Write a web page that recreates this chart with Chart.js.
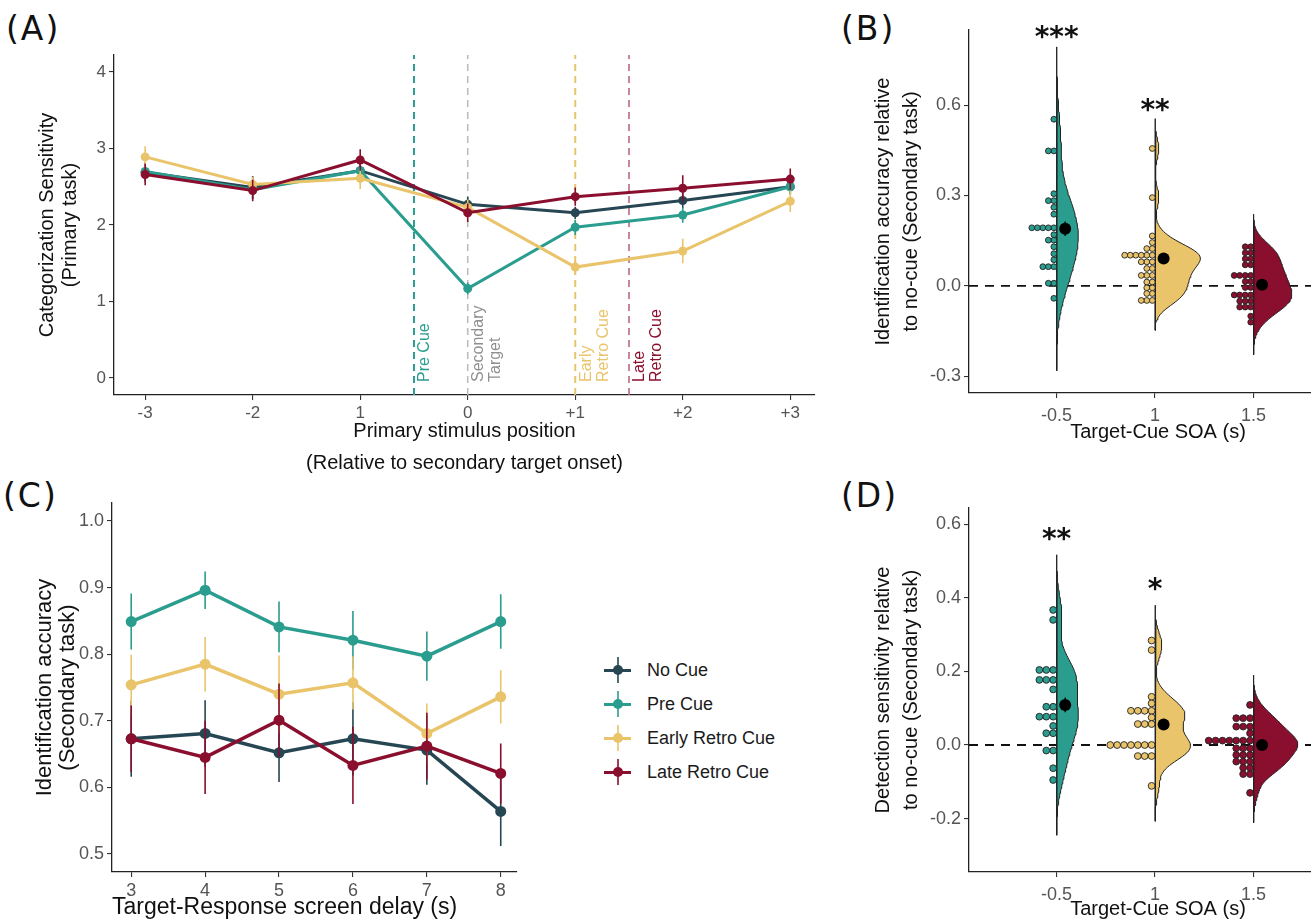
<!DOCTYPE html>
<html>
<head>
<meta charset="utf-8">
<script src="https://cdn.jsdelivr.net/npm/chart.js@4.4.1/dist/chart.umd.min.js"></script>
<style>
  html, body { margin: 0; padding: 0; background: #fff; overflow: hidden; width: 1311px; height: 920px; }
  canvas, .tag, #legend { position: absolute; }
  .tag { font-family: 'DejaVu Sans', sans-serif; font-size: 33px; letter-spacing: 2px; line-height: 1; color: #111; }
  #legend { left: 600px; top: 653px; font-family: 'Liberation Sans', Arial, sans-serif; font-size: 18px; color: #1a1a1a; }
  .item { position: relative; height: 34px; width: 200px; }
  .item span { position: absolute; }
</style>
</head>
<body>
<div class="tag" style="left:6px;top:12px">(A)</div>
<div class="tag" style="left:841px;top:12px">(B)</div>
<div class="tag" style="left:3px;top:479px">(C)</div>
<div class="tag" style="left:841px;top:479px">(D)</div>

<canvas id="chart-a" width="840" height="480" style="left:0;top:0"></canvas>
<canvas id="chart-c" width="560" height="450" style="left:0;top:470px"></canvas>
<canvas id="chart-b" width="513" height="450" style="left:840px;top:0"></canvas>
<canvas id="chart-d" width="513" height="450" style="left:840px;top:470px"></canvas>
<div id="legend"></div>

<script>
// ---- datos ----
const cueNames  = ['No Cue', 'Pre Cue', 'Early Retro Cue', 'Late Retro Cue'];
const cueColors = ['#264653', '#2a9d8f', '#e9c46a', '#8a0f2e'];

// (A) sensibilidad de categorización
const posLabels  = ['-3', '-2', '1', '0', '+1', '+2', '+3'];
const sensTicks  = [0, 1, 2, 3, 4];
const sensNoCue  = [2.69, 2.49, 2.71, 2.27, 2.16, 2.32, 2.50];
const sensPreCue = [2.70, 2.46, 2.71, 1.17, 1.97, 2.13, 2.50];
const sensEarly  = [2.89, 2.53, 2.61, 2.23, 1.45, 1.66, 2.31];
const sensLate   = [2.66, 2.45, 2.85, 2.16, 2.37, 2.48, 2.60];
const errNoCue   = [0.12, 0.15, 0.12, 0.10, 0.08, 0.10, 0.10];
const errPreCue  = [0.12, 0.12, 0.10, 0.08, 0.10, 0.10, 0.10];
const errEarly   = [0.14, 0.10, 0.14, 0.10, 0.10, 0.16, 0.14];
const errLate    = [0.14, 0.14, 0.14, 0.12, 0.12, 0.17, 0.14];
const eventPos   = [2.5, 3, 4, 4.5];
const eventNames = [['Pre Cue'], ['Secondary', 'Target'], ['Early', 'Retro Cue'], ['Late', 'Retro Cue']];
const eventLineColors = ['#2a9d8f', '#bdbdbd', '#e9c46a', '#b86a85'];
const eventTextColors = ['#2a9d8f', '#8f8f8f', '#e9c46a', '#8a0f2e'];

// (C) precisión de identificación
const delayLabels = [3, 4, 5, 6, 7, 8];
const idTicks     = [0.5, 0.6, 0.7, 0.8, 0.9, 1.0];
const idNoCue     = [0.673, 0.681, 0.652, 0.673, 0.656, 0.564];
const idPreCue    = [0.849, 0.896, 0.841, 0.821, 0.797, 0.849];
const idEarly     = [0.754, 0.785, 0.740, 0.757, 0.681, 0.736];
const idLate      = [0.673, 0.645, 0.701, 0.633, 0.662, 0.621];
const idErrNoCue  = [0.057, 0.050, 0.044, 0.055, 0.052, 0.052];
const idErrPreCue = [0.042, 0.028, 0.038, 0.044, 0.037, 0.041];
const idErrEarly  = [0.045, 0.041, 0.058, 0.040, 0.045, 0.040];
const idErrLate   = [0.050, 0.055, 0.055, 0.058, 0.050, 0.045];

// (B) precisión relativa a no-cue
const soaLabels = ['-0.5', '1', '1.5'];
const soaPos    = [1, 2, 3];
const accTicks  = [-0.3, 0, 0.3, 0.6];
const accPre    = [0.553, 0.448, 0.448, 0.306, 0.283, 0.283, 0.261, 0.238, 0.193, 0.193, 0.193, 0.193, 0.193,
                   0.170, 0.152, 0.152, 0.130, 0.107, 0.087, 0.064, 0.064, 0.064, 0.009, 0.009, -0.041];
const accEarly  = [0.456, 0.293, 0.166, 0.144, 0.124, 0.124, 0.102, 0.102, 0.102, 0.102, 0.102, 0.102,
                   0.080, 0.080, 0.080, 0.058, 0.058, 0.035, 0.035, 0.035, 0.013, 0.013, -0.006, -0.006,
                   -0.025, -0.025, -0.048, -0.048, -0.048];
const accLate   = [0.130, 0.130, 0.110, 0.110, 0.090, 0.090, 0.070, 0.070, 0.035, 0.035, 0.035, 0.035,
                   0.015, 0.015, -0.005, -0.005, -0.030, -0.030, -0.030, -0.030, -0.050, -0.050, -0.050,
                   -0.070, -0.070, -0.070, -0.100, -0.120];
const accMeans  = [0.190, 0.091, 0.004];
const accErr    = [0.024, 0.018, 0.016];
const accStars  = ['***', '**', ''];
const accStarY  = [0.845, 0.603, 0];
const accBandwidth   = [0.080, 0.033, 0.036];
const accViolinWidth = [0.22, 0.46, 0.39];

// (D) sensibilidad de detección relativa a no-cue
const detTicks  = [-0.2, 0, 0.2, 0.4, 0.6];
const detPre    = [0.367, 0.340, 0.204, 0.204, 0.204, 0.177, 0.177, 0.177, 0.151, 0.104, 0.104,
                   0.077, 0.077, 0.077, 0.052, 0.032, 0.032, -0.015, -0.015, -0.063, -0.095];
const detEarly  = [0.284, 0.258, 0.131, 0.113, 0.093, 0.093, 0.093, 0.093, 0.075, 0.057, 0.057, 0.057,
                   0, 0, 0, 0, 0, 0, 0, -0.030, -0.030, -0.030, -0.111];
const detLate   = [0.109, 0.073, 0.073, 0.073, 0.050, 0.050, 0.050, 0.032, 0.012, 0.012, 0.012, 0.012,
                   0.012, 0.012, 0.012, -0.009, -0.009, -0.009, -0.027, -0.027, -0.027, -0.045, -0.045,
                   -0.045, -0.062, -0.062, -0.079, -0.079, -0.130];
const detMeans  = [0.109, 0.056, 0.0];
const detErr    = [0.020, 0.015, 0.012];
const detStars  = ['**', '*', ''];
const detStarY  = [0.576, 0.440, 0];
const detBandwidth   = [0.050, 0.032, 0.027];
const detViolinWidth = [0.22, 0.36, 0.45];

// ---- estilo común ----
const FONT = "'Liberation Sans', Arial, sans-serif";
Chart.defaults.font.family = FONT;

function axisBase(tickSize) {
  return {
    type: 'linear',
    grid: { drawOnChartArea: false, drawTicks: true, tickLength: 5, color: '#333', lineWidth: 1.1 },
    border: { display: true, color: '#222', width: 1.3 },
    ticks: { color: '#555', font: { size: tickSize }, padding: 3, autoSkip: false, maxRotation: 0 }
  };
}

function axisTitle(lines, size, lh, padTop, padBottom, align) {
  return {
    display: true, text: lines, color: '#111', align: align || 'center',
    font: { size: size, lineHeight: lh },
    padding: { top: padTop, bottom: padBottom }
  };
}

function baseOptions(padding, scales, extraPlugins) {
  return {
    responsive: false,
    animation: false,
    devicePixelRatio: 1,
    layout: { padding: padding },
    plugins: Object.assign({ legend: { display: false }, tooltip: { enabled: false } }, extraPlugins || {}),
    scales: scales
  };
}

// segmentos de barras de error separados por huecos
function errorSegments(xs, means, errs) {
  const pts = [];
  means.forEach((m, i) => {
    pts.push({ x: xs[i], y: m - errs[i] }, { x: xs[i], y: m + errs[i] }, { x: xs[i], y: null });
  });
  return pts;
}

function lineSeries(xs, series, errs, lineW, radius) {
  const sets = [];
  series.forEach((vals, s) => {
    sets.push({
      data: vals.map((v, i) => ({ x: xs[i], y: v })),
      borderColor: cueColors[s], backgroundColor: cueColors[s], borderWidth: lineW,
      pointRadius: radius, pointBorderWidth: 0, pointBackgroundColor: cueColors[s],
      order: 10 - s * 2
    });
    sets.push({
      data: errorSegments(xs, vals, errs[s]),
      borderColor: cueColors[s], borderWidth: 1.6, pointRadius: 0, spanGaps: false,
      order: 11 - s * 2
    });
  });
  return sets;
}

// densidad gaussiana (violín sin recortar: +-3 anchos de banda)
function density(v, bw) {
  const lo = Math.min(...v) - 3 * bw, hi = Math.max(...v) + 3 * bw;
  const ys = [], ds = [];
  for (let k = 0; k <= 120; k++) {
    const y = lo + (hi - lo) * k / 120;
    let d = 0;
    v.forEach(t => { const u = (y - t) / bw; d += Math.exp(-0.5 * u * u); });
    ys.push(y);
    ds.push(d);
  }
  return { ys, ds };
}

function stackDots(values, center, pitch) {
  const count = {};
  return values.map(v => {
    const k = count[v] || 0;
    count[v] = k + 1;
    return { x: center - (k + 0.5) * pitch, y: v };
  });
}

// media nube de lluvia: violín a la derecha, puntos apilados a la izquierda
function raincloud(groups, means, errs, bws, widths, pitch, radius, xMin, xMax) {
  const sets = [{
    data: [{ x: xMin, y: 0 }, { x: xMax, y: 0 }],
    borderColor: '#111', borderWidth: 1.8, borderDash: [9, 7], pointRadius: 0, order: 50
  }];
  groups.forEach((g, i) => {
    const c = soaPos[i];
    const col = cueColors[i + 1];
    const { ys, ds } = density(g, bws[i]);
    const dMax = Math.max(...ds);
    const shape = [{ x: c, y: ys[0] }];
    ys.forEach((y, k) => shape.push({ x: c + ds[k] / dMax * widths[i], y: y }));
    shape.push({ x: c, y: ys[ys.length - 1] }, { x: c, y: ys[0] });
    sets.push({
      data: shape, fill: 'shape', backgroundColor: col, borderColor: '#222', borderWidth: 1,
      pointRadius: 0, tension: 0, order: 40
    });
    sets.push({
      data: stackDots(g, c, pitch), showLine: false,
      pointRadius: radius, pointBackgroundColor: col, pointBorderColor: '#222', pointBorderWidth: 0.9,
      order: 30
    });
    sets.push({
      data: [{ x: c + 0.087, y: means[i] - errs[i] }, { x: c + 0.087, y: means[i] + errs[i] }],
      borderColor: '#111', borderWidth: 1.5, pointRadius: 0, order: 20
    });
    sets.push({
      data: [{ x: c + 0.087, y: means[i] }], showLine: false,
      pointRadius: 6, pointBackgroundColor: '#000', pointBorderWidth: 0, order: 10
    });
  });
  return sets;
}

// texto de asteriscos sobre cada grupo
const starPlugin = {
  id: 'stars',
  afterDatasetsDraw(chart, args, opts) {
    const { ctx, scales: { x, y } } = chart;
    ctx.save();
    ctx.font = 'bold 28px "DejaVu Sans"';
    ctx.fillStyle = '#111';
    ctx.textAlign = 'center';
    ctx.textBaseline = 'alphabetic';
    opts.labels.forEach((s, i) => {
      if (s) ctx.fillText(s, x.getPixelForValue(soaPos[i]), y.getPixelForValue(opts.ys[i]) + 15);
    });
    ctx.restore();
  }
};

// etiquetas verticales de los eventos en (A)
const eventPlugin = {
  id: 'events',
  afterDatasetsDraw(chart) {
    const { ctx, chartArea, scales: { x } } = chart;
    ctx.save();
    ctx.font = '16px ' + FONT;
    ctx.textAlign = 'left';
    ctx.textBaseline = 'middle';
    eventPos.forEach((p, i) => {
      const px = x.getPixelForValue(p);
      ctx.fillStyle = eventTextColors[i];
      eventNames[i].forEach((line, j) => {
        ctx.save();
        ctx.translate(px + 11 + j * 17, chartArea.bottom - 13);
        ctx.rotate(-Math.PI / 2);
        ctx.fillText(line, 0, 0);
        ctx.restore();
      });
    });
    ctx.restore();
  }
};

// ---- (A) ----
const yMinA = -0.222, yMaxA = 4.222;
const posIdx = posLabels.map((_, i) => i);
const datasetsA = lineSeries(posIdx, [sensNoCue, sensPreCue, sensEarly, sensLate],
  [errNoCue, errPreCue, errEarly, errLate], 3, 4.5);
eventPos.forEach((p, i) => datasetsA.push({
  data: [{ x: p, y: yMinA }, { x: p, y: yMaxA }],
  borderColor: eventLineColors[i], borderWidth: i % 2 === 0 ? 2 : 1.6, borderDash: [7, 5],
  pointRadius: 0, order: 30
}));

new Chart(document.getElementById('chart-a'), {
  type: 'line',
  data: { datasets: datasetsA },
  options: baseOptions({ top: 55, right: 25, left: 0, bottom: 0 }, {
    x: Object.assign(axisBase(17), {
      min: -0.29, max: 6.23,
      afterBuildTicks: s => { s.ticks = posIdx.map(v => ({ value: v })); },
      afterFit: s => { s.height = 85; },
      title: axisTitle(['Primary stimulus position', '(Relative to secondary target onset)'], 20, 1.6, 0, 1)
    }),
    y: Object.assign(axisBase(17), {
      min: yMinA, max: yMaxA,
      afterBuildTicks: s => { s.ticks = sensTicks.map(v => ({ value: v })); },
      afterFit: s => { s.width = 114; },
      title: axisTitle(['Categorization Sensitivity', '(Primary task)'], 20, 1.15, 36, 0)
    })
  }),
  plugins: [eventPlugin]
});
// etiquetas de categoría
Chart.getChart('chart-a').options.scales.x.ticks.callback = (v, i) => posLabels[i];
Chart.getChart('chart-a').update();

// ---- (C) ----
new Chart(document.getElementById('chart-c'), {
  type: 'line',
  data: {
    datasets: lineSeries(delayLabels, [idNoCue, idPreCue, idEarly, idLate],
      [idErrNoCue, idErrPreCue, idErrEarly, idErrLate], 3.5, 5.5)
  },
  options: baseOptions({ top: 33, right: 43, left: 0, bottom: 0 }, {
    x: Object.assign(axisBase(18), {
      min: 2.74, max: 8.22,
      afterBuildTicks: s => { s.ticks = delayLabels.map(v => ({ value: v })); },
      afterFit: s => { s.height = 48; },
      title: axisTitle('Target-Response screen delay (s)', 23, 1.1, 0, 0, 'start')
    }),
    y: Object.assign(axisBase(18), {
      min: 0.473, max: 1.027,
      afterBuildTicks: s => { s.ticks = idTicks.map(v => ({ value: v })); },
      afterFit: s => { s.width = 112; },
      title: axisTitle(['Identification accuracy', '(Secondary task)'], 22, 1.05, 33, 0)
    })
  })
});
Chart.getChart('chart-c').options.scales.y.ticks.callback = v => v.toFixed(1);
Chart.getChart('chart-c').update();

// ---- (B) y (D) ----
function cloudChart(id, groups, means, errs, bws, widths, ticks, yMin, yMax, top, xHeight, xPadBottom, yTitle, stars, starY, pitch, radius) {
  const xMin = 0.11, xMax = 3.95;
  new Chart(document.getElementById(id), {
    type: 'line',
    data: { datasets: raincloud(groups, means, errs, bws, widths, pitch, radius, xMin, xMax) },
    options: baseOptions({ top: top, right: 0, left: 0, bottom: 0 }, {
      x: Object.assign(axisBase(18), {
        min: xMin, max: xMax,
        afterBuildTicks: s => { s.ticks = soaPos.map(v => ({ value: v })); },
        afterFit: s => { s.height = xHeight; },
        title: axisTitle('Target-Cue SOA (s)', 20, 1.1, 0, xPadBottom)
      }),
      y: Object.assign(axisBase(18), {
        min: yMin, max: yMax,
        afterBuildTicks: s => { s.ticks = ticks.map(v => ({ value: v })); },
        afterFit: s => { s.width = 129; },
        title: axisTitle(yTitle, 20, 1.4, 29, 0)
      })
    }, { stars: { labels: stars, ys: starY } }),
    plugins: [starPlugin]
  });
  const ch = Chart.getChart(id);
  ch.options.scales.x.ticks.callback = (v, i) => soaLabels[i];
  ch.options.scales.x.ticks.padding = 7;
  ch.options.scales.y.ticks.callback = v => v.toFixed(1);
  ch.update();
}

cloudChart('chart-b', [accPre, accEarly, accLate], accMeans, accErr, accBandwidth, accViolinWidth,
  accTicks, -0.355, 0.849, 30, 57, 7,
  ['Identification accuracy relative', 'to no-cue (Secondary task)'], accStars, accStarY, 0.056, 2.9);
cloudChart('chart-d', [detPre, detEarly, detLate], detMeans, detErr, detBandwidth, detViolinWidth,
  detTicks, -0.345, 0.644, 38, 48, 0,
  ['Detection sensitivity relative', 'to no-cue (Secondary task)'], detStars, detStarY, 0.07, 3.4);

// ---- leyenda ----
const legend = document.getElementById('legend');
cueNames.forEach((name, i) => {
  const item = document.createElement('div');
  item.className = 'item';
  const c = cueColors[i];
  item.innerHTML =
    `<span style="left:4px;top:16px;width:27px;height:3px;background:${c}"></span>` +
    `<span style="left:17px;top:4px;width:2px;height:26px;background:${c};opacity:0.8"></span>` +
    `<span style="left:13px;top:12px;width:10px;height:10px;border-radius:50%;background:${c}"></span>` +
    `<span style="left:47px;top:7px">${name}</span>`;
  legend.appendChild(item);
});
</script>
</body>
</html>
